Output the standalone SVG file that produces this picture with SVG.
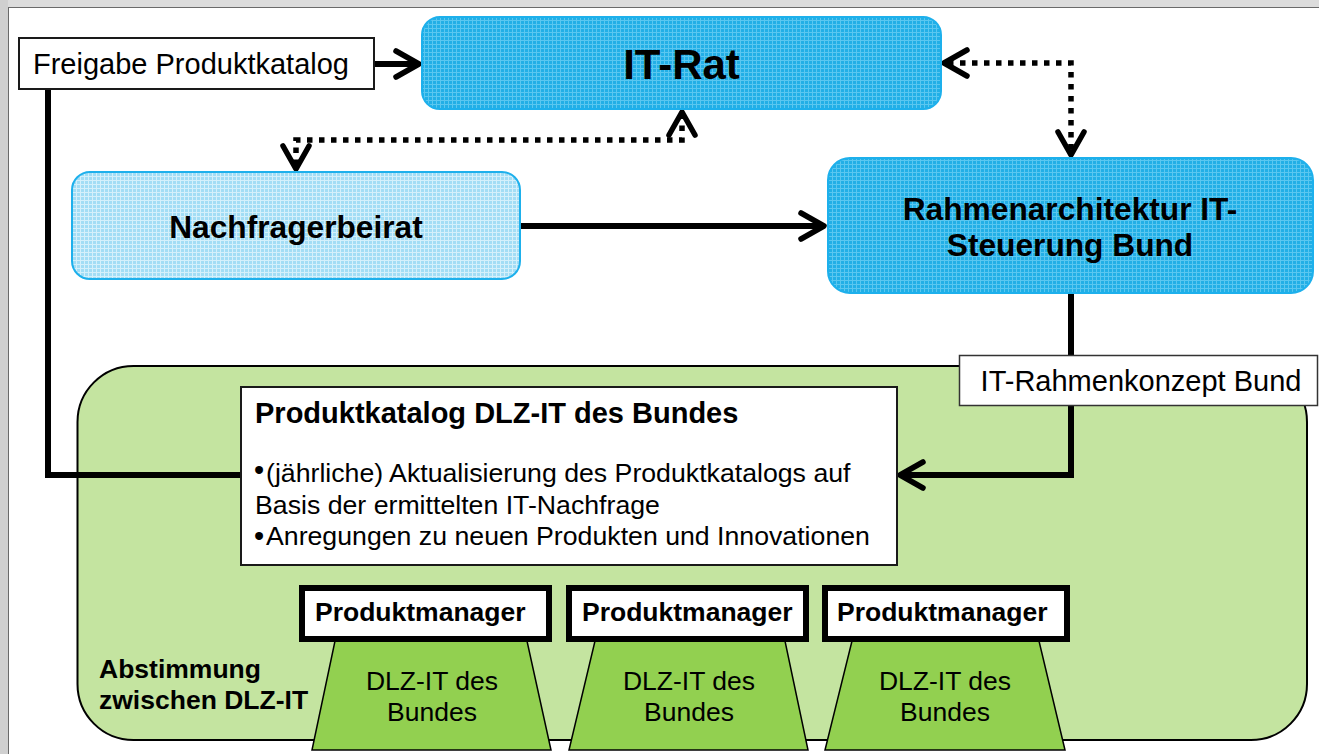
<svg xmlns="http://www.w3.org/2000/svg" width="1319" height="754" viewBox="0 0 1319 754">
<style>
.t{font-family:"Liberation Sans",Arial,sans-serif;fill:#000}
.b{font-weight:bold}
.blue{stroke:#1db0ec;stroke-width:2}
.conn{fill:none;stroke:#000;stroke-width:6;stroke-linejoin:miter}
.dot{fill:none;stroke:#000;stroke-width:5.5;stroke-dasharray:5.5 6.5}
.pm{fill:#fff;stroke:#000;stroke-width:6}
.trap{fill:#92d050;stroke:#000;stroke-width:1.5}
.box{fill:#fff;stroke:#1a1a1a;stroke-width:2}
</style>
<defs>
<pattern id="pDark" width="4" height="4" patternUnits="userSpaceOnUse">
<rect width="4" height="4" fill="#22afe6"/>
<rect width="4" height="1" fill="#5ac7f0"/>
<rect width="1" height="4" fill="#5ac7f0"/>
</pattern>
<pattern id="pLight" width="4" height="4" patternUnits="userSpaceOnUse">
<rect width="4" height="4" fill="#a2ddf5"/>
<rect width="4" height="1" fill="#d4f0fb"/>
<rect width="1" height="4" fill="#d4f0fb"/>
</pattern>
<marker id="chev" markerUnits="userSpaceOnUse" orient="auto-start-reverse" refX="0" refY="0" markerWidth="60" markerHeight="60" overflow="visible">
<path d="M-19,-13 L4,0 L-19,13" fill="none" stroke="#000" stroke-width="5.5" stroke-linecap="round" stroke-linejoin="round"/>
</marker>
</defs>

<g id="frame">
<rect x="0" y="0" width="1319" height="754" fill="#fff"/>
<rect x="0" y="0" width="1319" height="7" fill="#dcdcdc"/>
<rect x="0" y="0" width="8" height="754" fill="#d0d0d0"/>
<line x1="8" y1="7.5" x2="1319" y2="7.5" stroke="#6a6a6a" stroke-width="1"/>
<line x1="8.5" y1="7" x2="8.5" y2="754" stroke="#6a6a6a" stroke-width="1"/>
</g>

<g id="abstimmung">
<rect x="77.5" y="366" width="1229.5" height="374" rx="56" fill="#c4e4a0" stroke="#000" stroke-width="2"/>
<text class="t b" font-size="26.5"><tspan x="99" y="678">Abstimmung</tspan><tspan x="99" y="709">zwischen DLZ-IT</tspan></text>
</g>

<g id="connectors">
<path class="conn" d="M374,64 H415" marker-end="url(#chev)"/>
<path class="dot" d="M296,165 V140 H682 V116" marker-start="url(#chev)" marker-end="url(#chev)"/>
<path class="dot" d="M948,63 H1071 V151" marker-start="url(#chev)" marker-end="url(#chev)"/>
<path class="conn" d="M520,226 H820" marker-end="url(#chev)"/>
<path class="conn" d="M1071,293 V475 H904" marker-end="url(#chev)"/>
<path class="conn" d="M48,89 V475 H241"/>
</g>

<g id="freigabe">
<rect class="box" x="19" y="38" width="355" height="51"/>
<text class="t" x="33" y="74" font-size="29">Freigabe Produktkatalog</text>
</g>

<g id="it-rat">
<rect class="blue" x="422" y="17" width="519" height="92" rx="18" fill="url(#pDark)"/>
<text class="t b" x="681.5" y="79" font-size="42" text-anchor="middle">IT-Rat</text>
</g>

<g id="nachfragerbeirat">
<rect class="blue" x="72" y="172" width="448" height="107" rx="18" fill="url(#pLight)"/>
<text class="t b" x="296" y="238" font-size="31.7" text-anchor="middle">Nachfragerbeirat</text>
</g>

<g id="rahmenarchitektur">
<rect class="blue" x="828" y="158" width="485" height="135" rx="22" fill="url(#pDark)"/>
<text class="t b" font-size="31.7" text-anchor="middle"><tspan x="1070" y="220">Rahmenarchitektur IT-</tspan><tspan x="1070" y="256">Steuerung Bund</tspan></text>
</g>

<g id="it-rahmenkonzept">
<rect x="959.5" y="355.5" width="358" height="50" fill="#fff" stroke="#333" stroke-width="1.5"/>
<text class="t" x="1141" y="391" font-size="29" text-anchor="middle">IT-Rahmenkonzept Bund</text>
</g>

<g id="produktkatalog">
<rect class="box" x="241" y="387" width="656" height="178" stroke-width="2.5"/>
<text class="t b" x="255" y="423" font-size="29">Produktkatalog DLZ-IT des Bundes</text>
<text class="t" font-size="26.7">
<tspan x="254" y="480" font-size="29">•</tspan><tspan x="266" y="482">(jährliche) Aktualisierung des Produktkatalogs auf</tspan>
<tspan x="255" y="513.5">Basis der ermittelten IT-Nachfrage</tspan>
<tspan x="254" y="546" font-size="29">•</tspan><tspan x="266" y="545">Anregungen zu neuen Produkten und Innovationen</tspan>
</text>
</g>

<g id="dlz1">
<polygon class="trap" points="335,641 527,641 551,750 312,750"/>
<rect class="pm" x="302" y="588" width="247" height="51"/>
<text class="t b" x="315" y="621" font-size="26.5">Produktmanager</text>
<text class="t" font-size="26.5" text-anchor="middle"><tspan x="432" y="690">DLZ-IT des</tspan><tspan x="432" y="721">Bundes</tspan></text>
</g>

<g id="dlz2">
<polygon class="trap" points="595,641 785,641 808,750 569,750"/>
<rect class="pm" x="569" y="588" width="237" height="51"/>
<text class="t b" x="582" y="621" font-size="26.5">Produktmanager</text>
<text class="t" font-size="26.5" text-anchor="middle"><tspan x="689" y="690">DLZ-IT des</tspan><tspan x="689" y="721">Bundes</tspan></text>
</g>

<g id="dlz3">
<polygon class="trap" points="852,641 1039,641 1065,750 825,750"/>
<rect class="pm" x="825" y="588" width="242" height="51"/>
<text class="t b" x="837" y="621" font-size="26.5">Produktmanager</text>
<text class="t" font-size="26.5" text-anchor="middle"><tspan x="945" y="690">DLZ-IT des</tspan><tspan x="945" y="721">Bundes</tspan></text>
</g>
</svg>
